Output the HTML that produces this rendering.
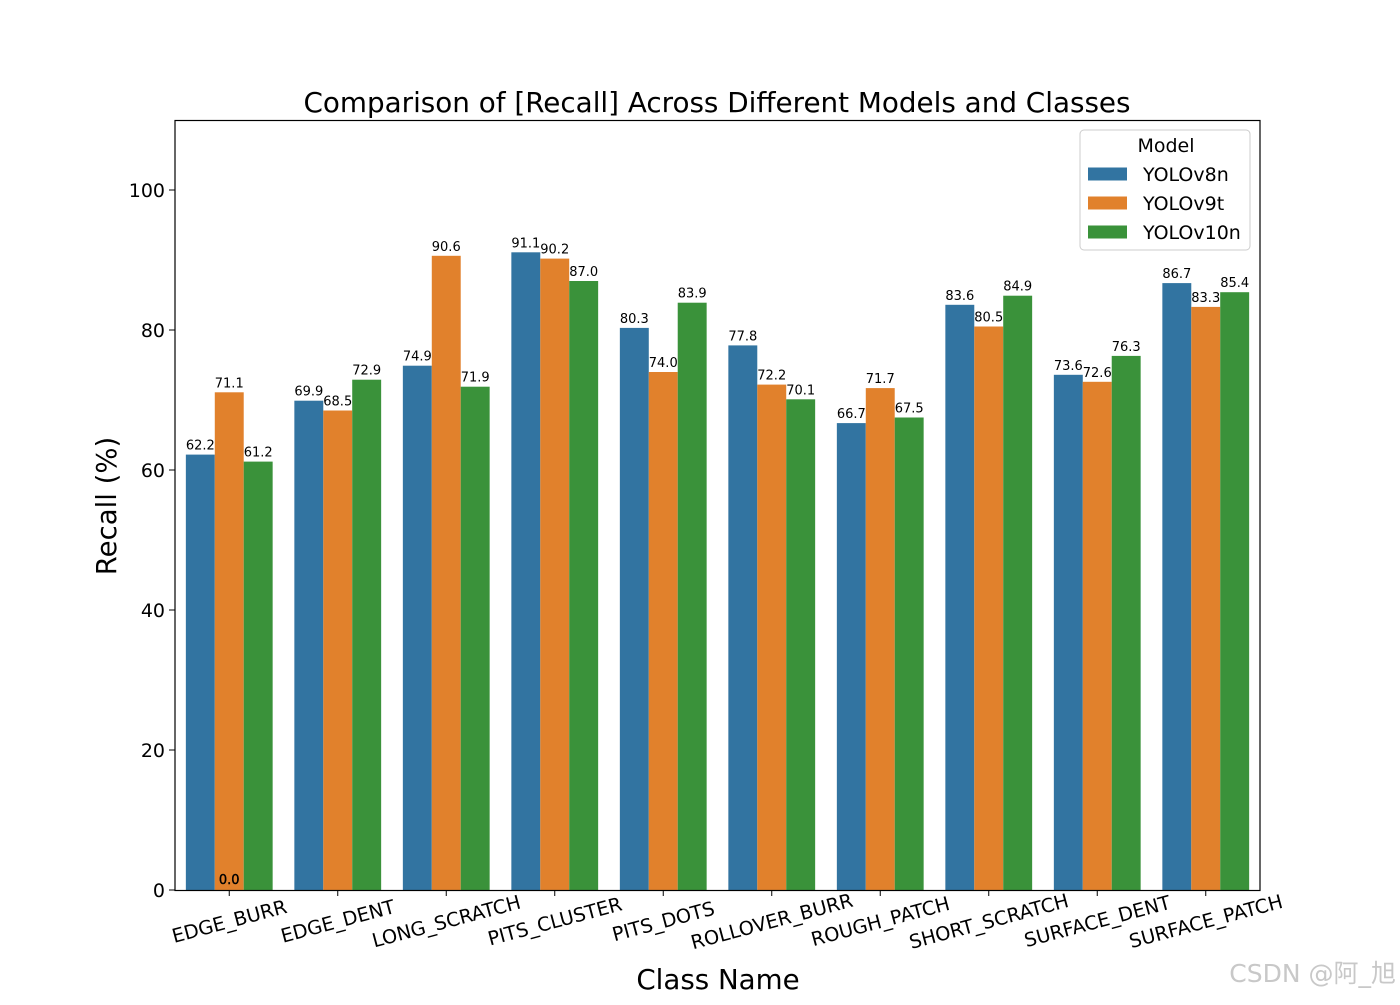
<!DOCTYPE html>
<html><head><meta charset="utf-8"><style>
body{margin:0;background:#fff;}
svg text{font-family:"DejaVu Sans","Liberation Sans","Noto Sans CJK SC",sans-serif;}
</style></head><body>
<svg id="chart" width="1400" height="1000" viewBox="0 0 1400 1000">
<rect width="1400" height="1000" fill="#fff"/>
<text x="717" y="112" font-size="27.8" text-anchor="middle">Comparison of [Recall] Across Different Models and Classes</text>
<g id="plot"></g>
<rect x="175" y="120.5" width="1085" height="770" fill="none" stroke="#000" stroke-width="1.2"/>
<text transform="translate(116,506) rotate(-90)" font-size="27.5" text-anchor="middle">Recall (%)</text>
<text x="718" y="989" font-size="27.7" text-anchor="middle">Class Name</text>
<g>
<rect x="1080" y="130" width="170" height="120" rx="4" fill="#fff" fill-opacity="0.8" stroke="#ccc"/>
<text x="1166" y="152" font-size="19" text-anchor="middle">Model</text>
<g id="legend-items"></g>
</g>
<text x="1396" y="982" font-size="25" fill="#c8c8c8" text-anchor="end">CSDN @阿_旭</text>
</svg>
<script>
const categories=["EDGE_BURR","EDGE_DENT","LONG_SCRATCH","PITS_CLUSTER","PITS_DOTS","ROLLOVER_BURR","ROUGH_PATCH","SHORT_SCRATCH","SURFACE_DENT","SURFACE_PATCH"];
const models=["YOLOv8n","YOLOv9t","YOLOv10n"];
const colors=["#3274a1","#e1812c","#3a923a"];
const yolov8n=[62.2,69.9,74.9,91.1,80.3,77.8,66.7,83.6,73.6,86.7];
const yolov9t=[71.1,68.5,90.6,90.2,74.0,72.2,71.7,80.5,72.6,83.3];
const yolov10n=[61.2,72.9,71.9,87.0,83.9,70.1,67.5,84.9,76.3,85.4];
const yTicks=[0,20,40,60,80,100];
const series=[yolov8n,yolov9t,yolov10n];
const NS="http://www.w3.org/2000/svg";
const L=175,R=1260,B=890,T=120,YMAX=110;
const y=v=>B-(v/YMAX)*(B-T);
const bw=(R-L)/categories.length;
const xc=i=>L+bw*(i+0.5);
const plot=document.getElementById('plot');
function mk(tag,attrs,parent){const e=document.createElementNS(NS,tag);for(const k in attrs)e.setAttribute(k,attrs[k]);parent.appendChild(e);return e;}
yTicks.forEach(t=>{
  const g=mk('g',{},plot);
  
  
  mk('line',{x1:L-6,x2:L,y1:y(t),y2:y(t),stroke:'#000','stroke-width':1},g);
  const tx=mk('text',{x:L-10,y:y(t)+7,'font-size':19,'text-anchor':'end'},g);tx.textContent=t;
});
const bar=bw*0.8/3;
categories.forEach((c,i)=>{
  series.forEach((s,j)=>{
    const v=s[i];const x0=xc(i)-bw*0.4+j*bar;
    const r=mk('rect',{x:x0,y:y(v),width:bar,height:B-y(v),fill:colors[j]},plot);
    
    
    const lb=mk('text',{x:x0+bar/2,y:y(v)-5,'font-size':13,'text-anchor':'middle'},plot);
    
    
    lb.textContent=v.toFixed(1);
  });
  const g=mk('g',{},plot);
  
  
  mk('line',{x1:xc(i),x2:xc(i),y1:B,y2:B+6,stroke:'#000'},g);
  const tx=mk('text',{x:xc(i),y:B+38,'font-size':19.3,'text-anchor':'middle',transform:`rotate(-15 ${xc(i)} ${B+31})`},g);
  tx.textContent=c;
});
const z=mk('text',{x:xc(0),y:B-6,'font-size':13,'text-anchor':'middle','stroke':'#000','stroke-width':0.4},plot);


z.textContent='0.0';
const li=document.getElementById('legend-items');
models.forEach((m,j)=>{
  const cy=174+j*29;
  const r=mk('rect',{x:1088,y:cy-6.5,width:39,height:13,fill:colors[j]},li);
  
  
  const t=mk('text',{x:1143,y:cy+7,'font-size':19},li);
  
  
  t.textContent=m;
});
</script>
</body></html>
